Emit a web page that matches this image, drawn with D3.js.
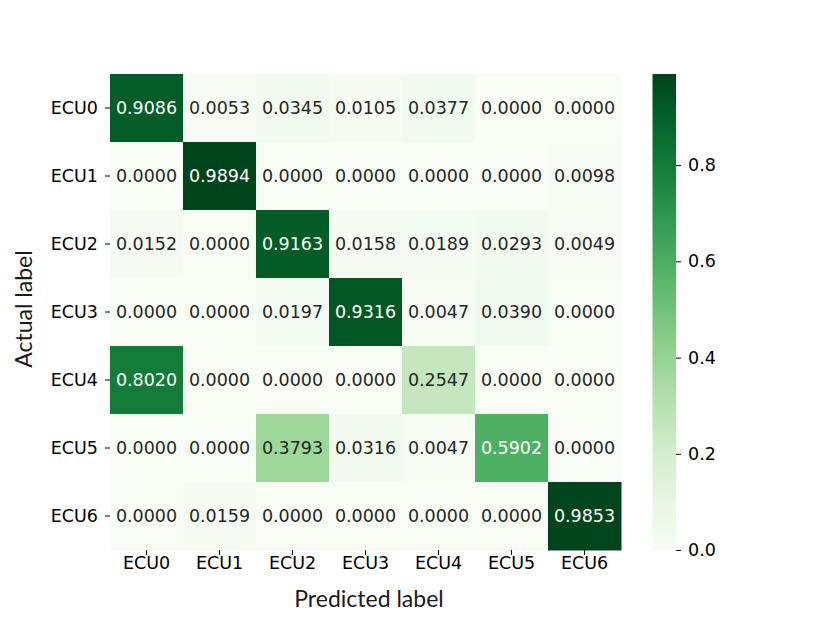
<!DOCTYPE html>
<html><head><meta charset="utf-8">
<script src="https://cdn.jsdelivr.net/npm/d3@7"></script>
<style>body{margin:0;background:#fff}</style>
</head><body>
<svg id="c" width="830" height="629"></svg>
<script>
const predicted = ["ECU0","ECU1","ECU2","ECU3","ECU4","ECU5","ECU6"];
const actual = ["ECU0","ECU1","ECU2","ECU3","ECU4","ECU5","ECU6"];
const matrix = [
 [0.9086,0.0053,0.0345,0.0105,0.0377,0.0000,0.0000],
 [0.0000,0.9894,0.0000,0.0000,0.0000,0.0000,0.0098],
 [0.0152,0.0000,0.9163,0.0158,0.0189,0.0293,0.0049],
 [0.0000,0.0000,0.0197,0.9316,0.0047,0.0390,0.0000],
 [0.8020,0.0000,0.0000,0.0000,0.2547,0.0000,0.0000],
 [0.0000,0.0000,0.3793,0.0316,0.0047,0.5902,0.0000],
 [0.0000,0.0159,0.0000,0.0000,0.0000,0.0000,0.9853]
];
const cbTicks = [0.0,0.2,0.4,0.6,0.8];

const svg = d3.select("#c");
const L=110,R=621,T=74,B=550;
const FS = "17.5px";
const x = d3.scaleBand().domain(predicted).range([L,R]);
const y = d3.scaleBand().domain(actual).range([T,B]);
const vmax = d3.max(matrix.flat());
const color = d3.scaleSequential(d3.interpolateGreens).domain([0,vmax]);
const cells = [];
matrix.forEach((row,i)=>row.forEach((v,j)=>cells.push({r:actual[i],c:predicted[j],v})));
svg.append("g").selectAll("rect").data(cells).join("rect")
 .attr("x",d=>x(d.c)).attr("y",d=>y(d.r))
 .attr("width",x.bandwidth()+0.5).attr("height",y.bandwidth()+0.5)
 .attr("fill",d=>color(d.v));
function lum(c){const k=d3.rgb(c);const f=u=>{u/=255;return u<=0.03928?u/12.92:Math.pow((u+0.055)/1.055,2.4)};return 0.2126*f(k.r)+0.7152*f(k.g)+0.0722*f(k.b);}
svg.append("g").selectAll("text").data(cells).join("text")
 .attr("x",d=>x(d.c)+x.bandwidth()/2).attr("y",d=>y(d.r)+y.bandwidth()/2)
 .attr("text-anchor","middle").attr("dominant-baseline","central")
 .attr("font-family","DejaVu Sans").attr("font-size",FS)
 .attr("fill",d=>lum(color(d.v))<0.408?"#ffffff":"#262626")
 .text(d=>d.v.toFixed(4));

const xa = svg.append("g").attr("transform",`translate(0,${B})`).call(d3.axisBottom(x).tickSize(5).tickPadding(1.5));
const ya = svg.append("g").attr("transform",`translate(${L},0)`).call(d3.axisLeft(y).tickSize(5).tickPadding(7));
[xa,ya].forEach(a=>{a.select(".domain").remove();a.attr("font-family","DejaVu Sans").attr("font-size",FS);a.selectAll("text").attr("fill","#000");a.selectAll("line").attr("stroke","#000");});

svg.append("text").attr("x",369).attr("y",607).attr("text-anchor","middle")
 .attr("font-family","Lato").attr("font-size","23px").attr("fill","#1a1a1a").text("Predicted label");
svg.append("text").attr("transform",`translate(32,${309}) rotate(-90)`).attr("text-anchor","middle")
 .attr("font-family","Lato").attr("font-size","23px").attr("fill","#1a1a1a").text("Actual label");

// colorbar
const cx0=652.5,cw=23.5;
const cy = d3.scaleLinear().domain([0,vmax]).range([B,T]);
const defs = svg.append("defs");
const grad = defs.append("linearGradient").attr("id","g").attr("x1",0).attr("y1",1).attr("x2",0).attr("y2",0);
d3.range(0,1.0001,0.05).forEach(t=>grad.append("stop").attr("offset",t).attr("stop-color",color(t*vmax)));
svg.append("rect").attr("x",cx0).attr("y",T).attr("width",cw).attr("height",B-T).attr("fill","url(#g)");
const ca = svg.append("g").attr("transform",`translate(${cx0+cw},0)`).call(d3.axisRight(cy).tickValues(cbTicks).tickFormat(d3.format(".1f")).tickSize(5).tickPadding(7));
ca.select(".domain").remove();
ca.attr("font-family","DejaVu Sans").attr("font-size",FS);
ca.selectAll("text").attr("fill","#000");
ca.selectAll("line").attr("stroke","#000");
</script>
</body></html>
